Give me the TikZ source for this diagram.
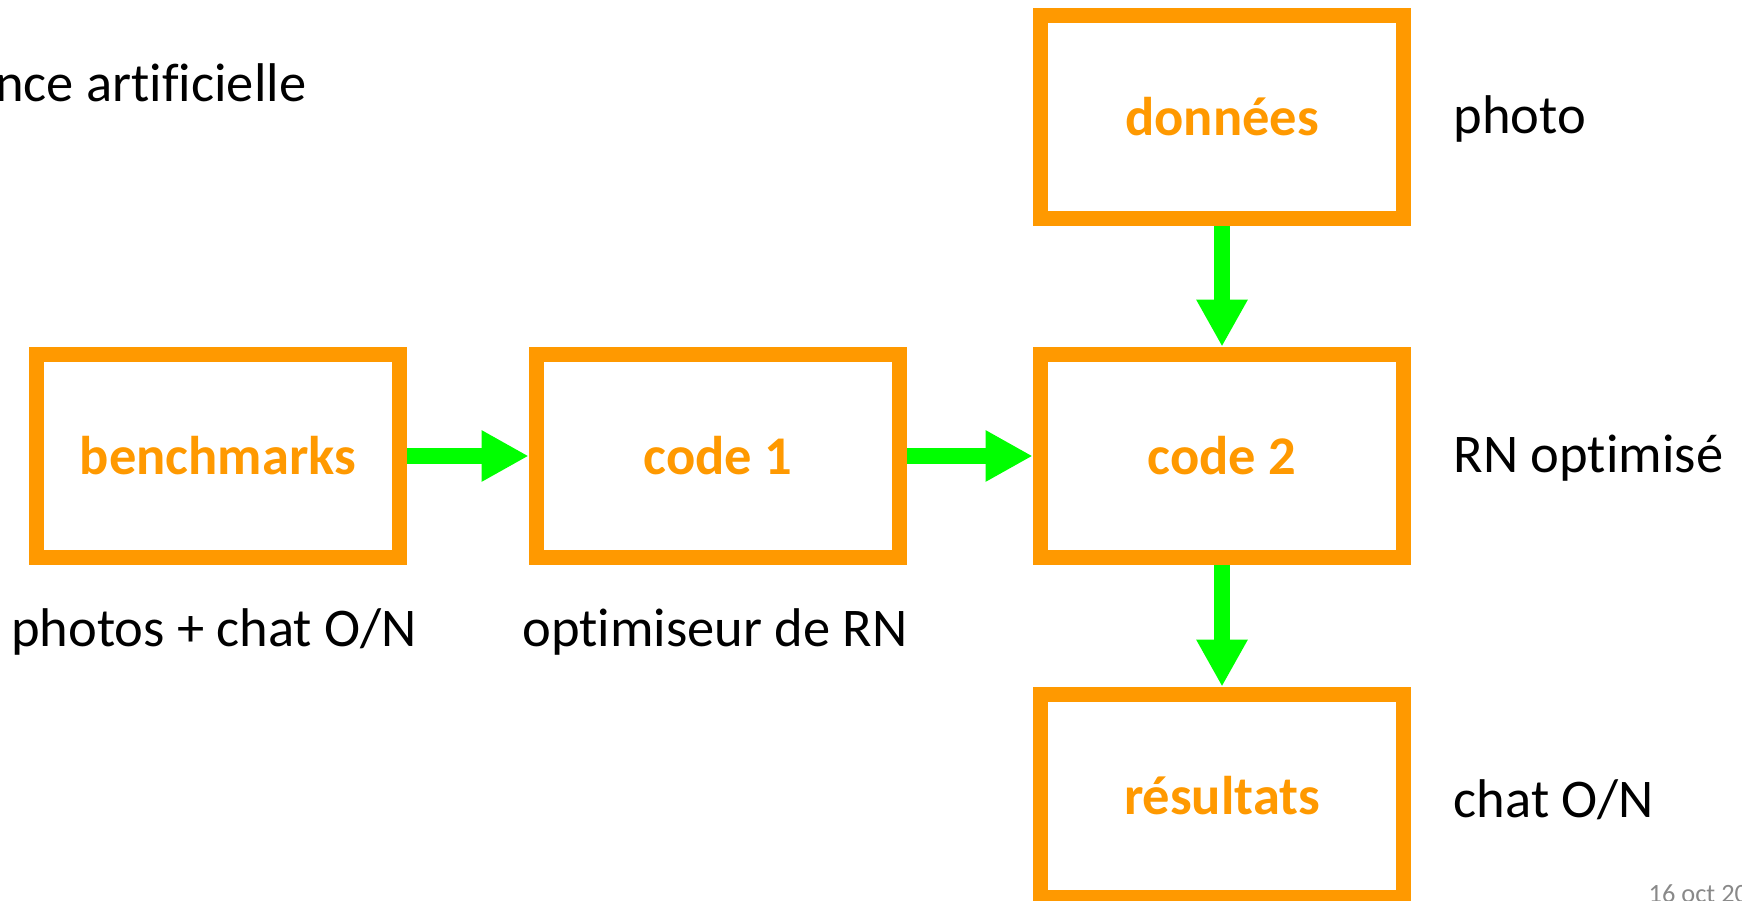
\documentclass[tikz,border=0pt]{standalone}
\usepackage{fontspec}
\setmainfont[Ligatures=NoCommon]{Carlito}
\usetikzlibrary{arrows.meta}
\definecolor{boxorange}{RGB}{255,153,0}
\definecolor{arrowgreen}{RGB}{0,255,0}
\definecolor{dategray}{RGB}{137,137,137}
\begin{document}
\begin{tikzpicture}[x=0.01cm, y=-0.01cm,
    block/.style={rectangle, draw=boxorange, line width=0.155cm, minimum width=3.63cm, minimum height=2.03cm,
        text=boxorange, font=\fontsize{15.5pt}{18pt}\selectfont\bfseries},
    label/.style={inner sep=0pt, font=\fontsize{15.5pt}{18pt}\selectfont},
    flow/.style={arrowgreen, line width=0.16cm, -{Triangle[length=0.47cm, width=0.48cm]}}]

    \useasboundingbox (0,0) rectangle (1742,901);

    \node[block] (bench) at (218,456) {benchmarks};
    \node[block] (code1) at (718,456) {code 1};
    \node[block] (code2) at (1222,456) {code 2};
    \node[block] (donnees) at (1222,117) {données};
    \node[block] (resultats) at (1222,796) {résultats};

    \node[label, anchor=base east] (titre) at (307,102) {nce artificielle};
    \node[label, anchor=base] (benchtxt) at (214,647) {photos + chat O/N};
    \node[label, anchor=base] (code1txt) at (715,647) {optimiseur de RN};
    \node[label, anchor=west] (donneestxt) at (1453,119) {photo};
    \node[label, anchor=west] (code2txt) at (1453,458) {RN optimisé};
    \node[label, anchor=west] (resultatstxt) at (1453,800) {chat O/N};
    \node[inner sep=0pt, anchor=base west, text=dategray, font=\fontsize{7.5pt}{9pt}\selectfont] (date) at (1648,903) {16 oct 20};

    \path [flow] (bench) edge (code1);
    \path [flow] (code1) edge (code2);
    \path [flow] (donnees) edge (code2);
    \path [flow] (code2) edge (resultats);

\end{tikzpicture}
\end{document}
